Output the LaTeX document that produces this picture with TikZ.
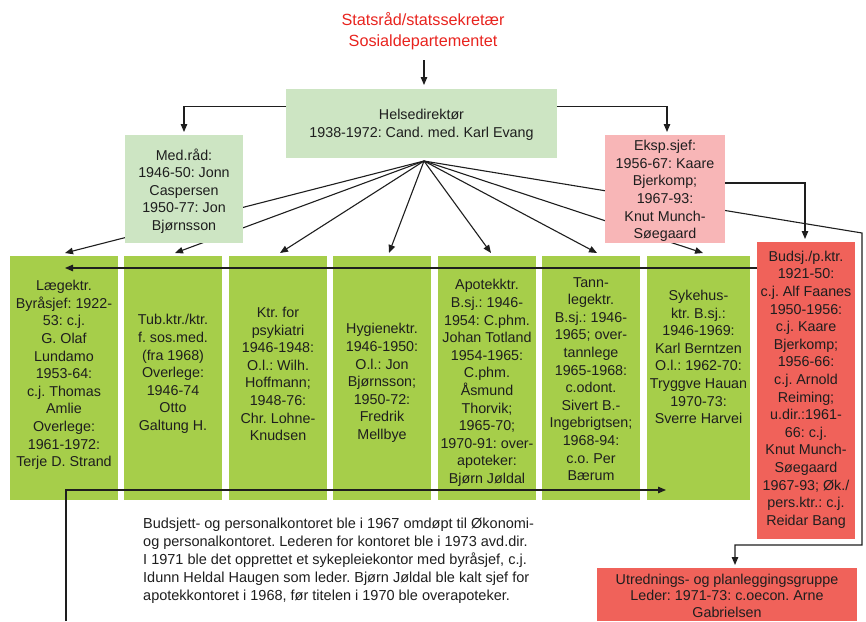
\documentclass[tikz,border=0pt]{standalone}
\usepackage{fontspec}
\setmainfont{Liberation Sans}
\frenchspacing
\usetikzlibrary{arrows.meta,backgrounds,calc}
\definecolor{lgreen}{RGB}{205,229,195}
\definecolor{bgreen}{RGB}{166,206,74}
\definecolor{pinkc}{RGB}{248,182,183}
\definecolor{redc}{RGB}{240,98,90}
\definecolor{titlered}{RGB}{232,35,30}
\definecolor{linec}{RGB}{30,30,30}
\definecolor{txtc}{RGB}{30,30,30}
\tikzset{
  boxbase/.style={inner sep=0pt, outer sep=0pt, draw=none},
  lbox/.style={boxbase, fill=lgreen},
  gbox/.style={boxbase, fill=bgreen, minimum width=98, minimum height=244},
  pbox/.style={boxbase, fill=pinkc},
  rbox/.style={boxbase, fill=redc},
  txt/.style={align=center, inner sep=0pt, text=txtc, font=\fontsize{14.3}{17.6}\selectfont},
  notetxt/.style={align=left, inner sep=0pt, text=txtc, font=\fontsize{14.5}{18}\selectfont},
  titletxt/.style={align=center, inner sep=0pt, text=titlered, font=\fontsize{16.2}{21.5}\selectfont},
  arr/.style={draw=linec, line width=1.1pt, -{Triangle[length=8pt,width=6.5pt]}},
}
\begin{document}
\begin{tikzpicture}[x=1pt,y=-1pt]
\useasboundingbox (0,0) rectangle (866,621);

% title
\node[titletxt] (title) at (423,31) {Statsråd/statssekretær\\Sosialdepartementet};

% upper boxes
\node[lbox, minimum width=271, minimum height=69] (hel) at (421.5,123.5) {};
\node[txt] (helt) at (421.5,125) {Helsedirektør\\1938-1972: Cand. med. Karl Evang};

\node[lbox, minimum width=118, minimum height=108] (med) at (184,189) {};
\node[txt] (medt) at (184,191) {Med.råd:\\1946-50: Jonn\\Caspersen\\1950-77: Jon\\Bjørnsson};

\node[pbox, minimum width=120, minimum height=108] (eks) at (665,189) {};
\node[txt] (ekst) at (665,191) {Eksp.sjef:\\1956-67: Kaare\\Bjerkomp;\\1967-93:\\Knut Munch-\\Søegaard};

% office boxes
\node[gbox, minimum width=108] (b1) at (64,378) {};
\node[txt] (b1t) at (64,375) {Lægektr.\\Byråsjef: 1922-\\53: c.j.\\G. Olaf\\Lundamo\\1953-64:\\c.j. Thomas\\Amlie\\Overlege:\\1961-1972:\\Terje D. Strand};

\node[gbox] (b2) at (173,378) {};
\node[txt] (b2t) at (173,374) {Tub.ktr./ktr.\\f. sos.med.\\(fra 1968)\\Overlege:\\1946-74\\Otto\\Galtung H.};

\node[gbox] (b3) at (278,378) {};
\node[txt] (b3t) at (278,374) {Ktr. for\\psykiatri\\1946-1948:\\O.l.: Wilh.\\Hoffmann;\\1948-76:\\Chr. Lohne-\\Knudsen};

\node[gbox] (b4) at (382,378) {};
\node[txt] (b4t) at (382,383) {Hygienektr.\\1946-1950:\\O.l.: Jon\\Bjørnsson;\\1950-72:\\Fredrik\\Mellbye};

\node[gbox] (b5) at (487,378) {};
\node[txt] (b5t) at (487,383) {Apotekktr.\\B.sj.: 1946-\\1954: C.phm.\\Johan Totland\\1954-1965:\\C.phm.\\Åsmund\\Thorvik;\\1965-70;\\1970-91: over-\\apoteker:\\Bjørn Jøldal};

\node[gbox] (b6) at (591,378) {};
\node[txt] (b6t) at (591,379) {Tann-\\legektr.\\B.sj.: 1946-\\1965; over-\\tannlege\\1965-1968:\\c.odont.\\Sivert B.-\\Ingebrigtsen;\\1968-94:\\c.o. Per\\Bærum};

\node[gbox, minimum width=103] (b7) at (698.5,378) {};
\node[txt] (b7t) at (698.5,357) {Sykehus-\\ktr. B.sj.:\\1946-1969:\\Karl Berntzen\\O.l.: 1962-70:\\Tryggve Hauan\\1970-73:\\Sverre Harvei};

\node[rbox, minimum width=98, minimum height=297] (bud) at (806,390.5) {};
\node[txt] (budt) at (806,389.5) {Budsj./p.ktr.\\1921-50:\\c.j. Alf Faanes\\1950-1956:\\c.j. Kaare\\Bjerkomp;\\1956-66:\\c.j. Arnold\\Reiming;\\u.dir.:1961-\\66: c.j.\\Knut Munch-\\Søegaard\\1967-93; Øk./\\pers.ktr.: c.j.\\Reidar Bang};

\node[rbox, minimum width=260, minimum height=53] (utr) at (727,594.5) {};
\node[txt, font=\fontsize{14.3}{16.6}\selectfont] (utrt) at (727,595.5) {Utrednings- og planleggingsgruppe\\Leder: 1971-73: c.oecon. Arne\\Gabrielsen};

% note
\node[notetxt, anchor=north west] (note) at (143,518) {Budsjett- og personalkontoret ble i 1967 omdøpt til Økonomi-\\og personalkontoret. Lederen for kontoret ble i 1973 avd.dir.\\I 1971 ble det opprettet et sykepleiekontor med byråsjef, c.j.\\Idunn Heldal Haugen som leder. Bjørn Jøldal ble kalt sjef for\\apotekkontoret i 1968, før titelen i 1970 ble overapoteker.};

% connectors
\coordinate (hub) at ($(hel.south)+(2.5,3)$);
\begin{scope}[on background layer]
\foreach \n/\dx in {b1/1,b2/2,b3/2,b4/7,b5/4,b6/6,b7/4.5}
  \draw[arr] (hub) -- ($(\n.north)+(\dx,-3)$);
\coordinate (c1) at (862,233);
\coordinate (c2) at (735,545);
\draw[arr] (hub) -- (c1) |- (c2) -- ($(c2 |- utr.north)+(0,-3)$);
\end{scope}

\draw[arr] ($(title.south)+(1,10)$) -- ($(title.south |- hel.north)+(1,-4)$);
\draw[arr] ($(hel.west)+(0,-17)$) -| ($(med.north)+(0,-3)$);
\draw[arr] ($(hel.east)+(0,-17)$) -| ($(eks.north)+(2,-3)$);
\draw[arr] ($(eks.east)+(0,-6)$) -| ($(bud.north)+(-1,-3)$);
\draw[arr] ($(bud.west)+(0,-122.5)$) -- ($(b1.north)+(1,12)$);
\coordinate (bs) at (66,621);
\draw[arr] (bs) |- ($(b7.west)+(19,112)$);
\end{tikzpicture}
\end{document}
